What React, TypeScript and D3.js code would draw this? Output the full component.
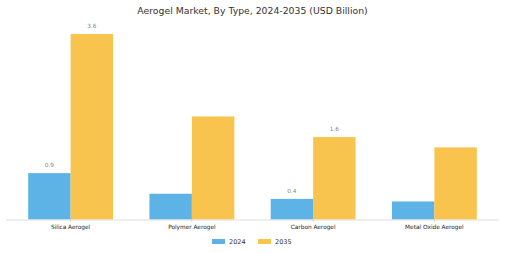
import React, { useEffect, useRef } from 'react';
import * as d3 from 'd3';

const categories = ['Silica Aerogel', 'Polymer Aerogel', 'Carbon Aerogel', 'Metal Oxide Aerogel'];
const years = ['2024', '2035'];
const values2024 = [0.9, 0.5, 0.4, 0.35];
const values2035 = [3.6, 2.0, 1.6, 1.4];
// only some bars carry a value label in the original
const labels2024 = ['0.9', '', '0.4', ''];
const labels2035 = ['3.6', '', '1.6', ''];
const colors = ['#5DB3E6', '#F8C44D'];

const W = 505;
const H = 253;

export default function App() {
  const ref = useRef<SVGSVGElement>(null);

  useEffect(() => {
    const svg = d3.select(ref.current);
    svg.selectAll('*').remove();
    const font = 'DejaVu Sans, sans-serif';

    const x = d3.scaleBand().domain(categories).range([10, 495])
      .paddingInner(0.3).paddingOuter(0.15);
    const inner = d3.scaleBand().domain(years).range([0, x.bandwidth()]);
    const y = d3.scaleLinear().domain([0, 3.6]).range([219.5, 34]);

    svg.append('text')
      .attr('x', W / 2).attr('y', 13.5)
      .attr('text-anchor', 'middle')
      .attr('font-family', font).attr('font-size', 9.3)
      .attr('fill', '#333')
      .text('Aerogel Market, By Type, 2024-2035 (USD Billion)');

    const series = [values2024, values2035];
    const labels = [labels2024, labels2035];

    series.forEach((vals, si) => {
      const g = svg.append('g');
      g.selectAll('rect')
        .data(vals)
        .join('rect')
        .attr('x', (_, i) => x(categories[i])! + inner(years[si])!)
        .attr('y', d => y(d))
        .attr('width', inner.bandwidth())
        .attr('height', d => y(0) - y(d))
        .attr('fill', colors[si]);
      g.selectAll('text')
        .data(vals)
        .join('text')
        .attr('x', (_, i) => x(categories[i])! + inner(years[si])! + inner.bandwidth() / 2)
        .attr('y', d => y(d) - 6)
        .attr('text-anchor', 'middle')
        .attr('font-family', font).attr('font-size', 5.8)
        .attr('fill', '#888')
        .text((_, i) => labels[si][i]);
    });

    const axis = svg.append('g').attr('transform', `translate(0,${y(0)})`)
      .call(d3.axisBottom(x).tickSize(2).tickPadding(3).tickSizeOuter(0));
    axis.select('.domain').attr('stroke', '#ddd').attr('d', 'M6,0.5H499');
    axis.selectAll('.tick line').attr('stroke', '#ccc');
    axis.selectAll('.tick text')
      .attr('font-family', font).attr('font-size', 5.8).attr('fill', '#222');

    const legendX = [212, 258];
    const legend = svg.append('g');
    years.forEach((yr, i) => {
      legend.append('rect')
        .attr('x', legendX[i]).attr('y', 239)
        .attr('width', 13).attr('height', 5)
        .attr('fill', colors[i]);
      legend.append('text')
        .attr('x', legendX[i] + 17).attr('y', 244.2)
        .attr('font-family', font).attr('font-size', 6.5)
        .attr('fill', '#333')
        .text(yr);
    });
  }, []);

  return (
    <svg ref={ref} width={W} height={H} style={{ position: 'absolute', left: 0, top: 0 }} />
  );
}
